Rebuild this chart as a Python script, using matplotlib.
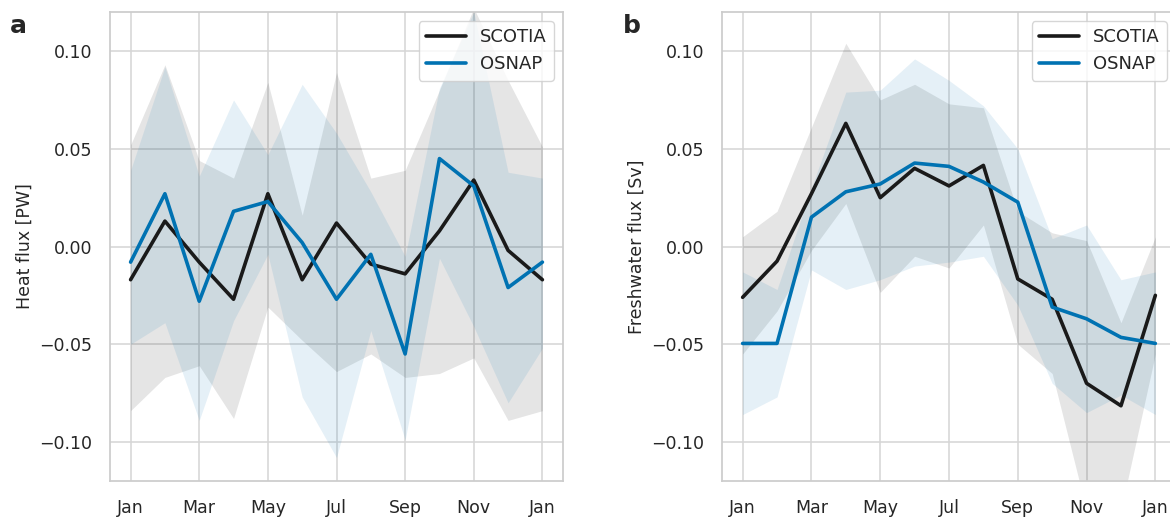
import matplotlib
matplotlib.use("Agg")
import matplotlib.pyplot as plt
import seaborn as sns
import numpy as np

months = ["Jan", "Feb", "Mar", "Apr", "May", "Jun", "Jul", "Aug", "Sep", "Oct", "Nov", "Dec", "Jan"]
tick_labels = ["Jan", "Mar", "May", "Jul", "Sep", "Nov", "Jan"]

# Heat flux [PW]
scotia_heat = [-0.017, 0.013, -0.008, -0.027, 0.027, -0.017, 0.012, -0.009, -0.014, 0.008, 0.034, -0.002, -0.017]
scotia_heat_hi = [0.052, 0.093, 0.044, 0.035, 0.084, 0.016, 0.089, 0.035, 0.039, 0.080, 0.122, 0.085, 0.051]
scotia_heat_lo = [-0.084, -0.067, -0.061, -0.088, -0.031, -0.048, -0.064, -0.055, -0.067, -0.065, -0.057, -0.089, -0.084]
osnap_heat = [-0.008, 0.027, -0.028, 0.018, 0.023, 0.002, -0.027, -0.004, -0.055, 0.045, 0.031, -0.021, -0.008]
osnap_heat_hi = [0.039, 0.092, 0.036, 0.075, 0.047, 0.083, 0.058, 0.028, -0.005, 0.081, 0.120, 0.038, 0.035]
osnap_heat_lo = [-0.050, -0.039, -0.089, -0.038, -0.004, -0.077, -0.108, -0.043, -0.099, -0.006, -0.041, -0.080, -0.052]

# Freshwater flux [Sv]
scotia_fw = [-0.026, -0.0075, 0.027, 0.063, 0.025, 0.040, 0.031, 0.0415, -0.0166, -0.027, -0.070, -0.0815, -0.025]
scotia_fw_hi = [0.005, 0.018, 0.061, 0.104, 0.075, 0.083, 0.073, 0.071, 0.018, 0.007, 0.003, -0.039, 0.005]
scotia_fw_lo = [-0.055, -0.033, -0.002, 0.022, -0.0235, -0.005, -0.011, 0.011, -0.050, -0.065, -0.135, -0.135, -0.055]
osnap_fw = [-0.0496, -0.0496, 0.015, 0.028, 0.032, 0.0427, 0.041, 0.033, 0.0227, -0.031, -0.037, -0.0465, -0.0496]
osnap_fw_hi = [-0.013, -0.022, 0.030, 0.079, 0.080, 0.096, 0.085, 0.072, 0.050, 0.004, 0.011, -0.017, -0.013]
osnap_fw_lo = [-0.086, -0.077, -0.012, -0.022, -0.017, -0.010, -0.008, -0.005, -0.030, -0.070, -0.085, -0.076, -0.086]

sns.set_theme(style="whitegrid")
plt.rcParams["font.family"] = ["DejaVu Sans"]

scotia_color = "#1a1a1a"
osnap_color = "#0072b2"

fig = plt.figure(figsize=(11.7, 5.18), dpi=100)
W, H = 1170, 518
ax1 = fig.add_axes([110 / W, 37 / H, 453 / W, 469 / H])
ax2 = fig.add_axes([722 / W, 37 / H, 454 / W, 469 / H])

x = np.arange(len(months))
yt = [-0.10, -0.05, 0.0, 0.05, 0.10]

def draw(ax, s, s_lo, s_hi, o, o_lo, o_hi, ylabel):
    ax.set_axisbelow(True)
    ax.fill_between(x, s_lo, s_hi, color="black", alpha=0.1, linewidth=0)
    ax.fill_between(x, o_lo, o_hi, color=osnap_color, alpha=0.1, linewidth=0)
    ax.plot(x, s, color=scotia_color, lw=2.6, label="SCOTIA")
    ax.plot(x, o, color=osnap_color, lw=2.6, label="OSNAP")
    ax.set_xticks(x[::2])
    ax.set_xticklabels(tick_labels, fontsize=12.5)
    ax.set_ylim(-0.12, 0.12)
    ax.set_yticks(yt)
    ax.set_yticklabels([f"{v:.2f}".replace("-", "\u2212") for v in yt], fontsize=12.5)
    ax.set_ylabel(ylabel, fontsize=12.5)
    ax.tick_params(axis="both", pad=7, colors="#262626")
    for sp in ax.spines.values():
        sp.set_color("#cccccc")
        sp.set_linewidth(1.25)
    ax.grid(True, color="#d5d5d5", linewidth=1.1)
    leg = ax.legend(loc="upper right", fontsize=13, frameon=True, handlelength=2.2,
                    borderaxespad=0.5)
    leg.get_frame().set_edgecolor("#cccccc")

draw(ax1, scotia_heat, scotia_heat_lo, scotia_heat_hi, osnap_heat, osnap_heat_lo, osnap_heat_hi, "Heat flux [PW]")
draw(ax2, scotia_fw, scotia_fw_lo, scotia_fw_hi, osnap_fw, osnap_fw_lo, osnap_fw_hi, "Freshwater flux [Sv]")

fig.text(10 / W, 1 - 26 / H, "a", fontsize=18, fontweight="bold", color="#262626", va="center")
fig.text(623 / W, 1 - 26 / H, "b", fontsize=18, fontweight="bold", color="#262626", va="center")

fig.savefig("out.png", dpi=100)
